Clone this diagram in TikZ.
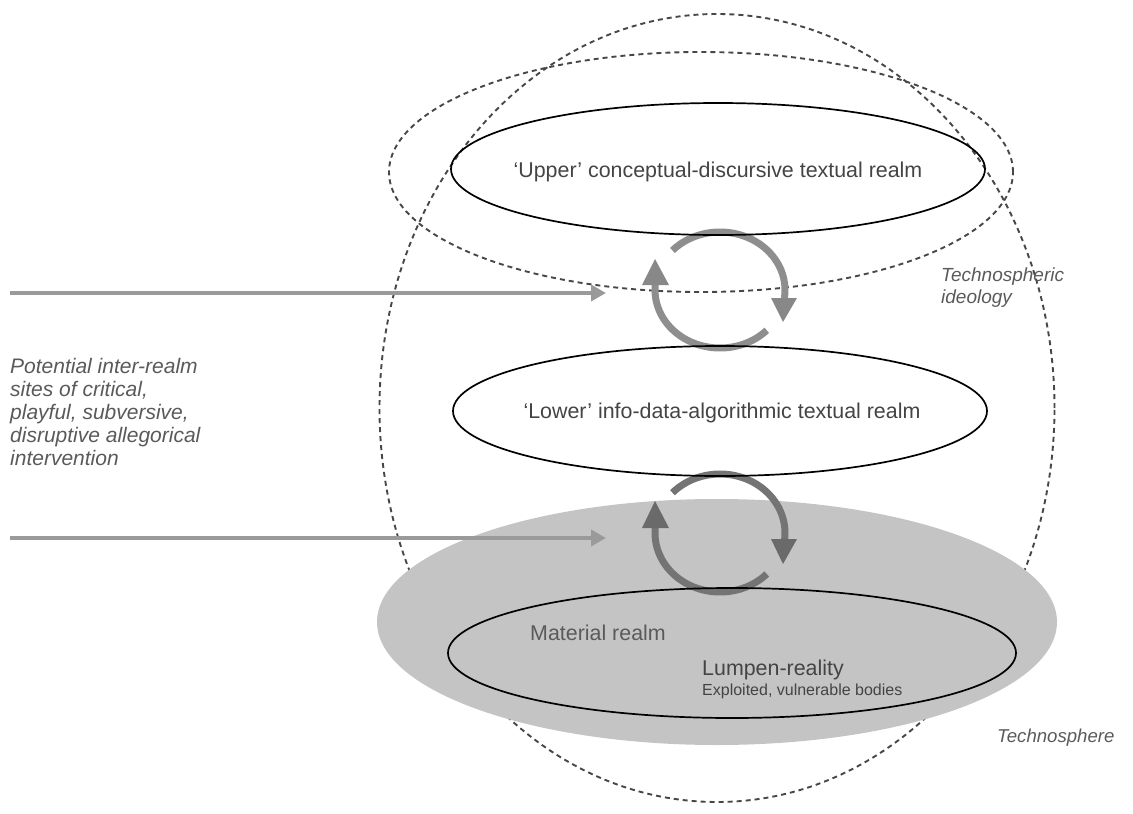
\documentclass[tikz,border=0pt]{standalone}
\usepackage{fontspec}
\setmainfont{Liberation Sans}
\usetikzlibrary{arrows.meta,shapes.geometric,calc}
\definecolor{dashc}{HTML}{474747}
\definecolor{fillc}{HTML}{C4C4C4}
\definecolor{arcup}{HTML}{8E8E8E}
\definecolor{headup}{HTML}{888888}
\definecolor{arclo}{HTML}{747474}
\definecolor{headlo}{HTML}{6A6A6A}
\definecolor{linec}{HTML}{9A9A9A}
\definecolor{labc}{HTML}{444444}
\definecolor{itc}{HTML}{5A5A5A}
\tikzset{
  realm/.style={ellipse, draw=black, line width=1.7pt, inner sep=0pt},
  dashring/.style={ellipse, draw=dashc, dash pattern=on 5pt off 4pt, line width=1.9pt, inner sep=0pt},
  lbl/.style={font=\fontsize{21.4}{24}\selectfont, text=labc, inner sep=0pt},
  itlbl/.style={font=\fontsize{21}{23}\selectfont\itshape, text=itc, inner sep=0pt, align=left},
  itsm/.style={font=\fontsize{19}{22}\selectfont\itshape, text=itc, inner sep=0pt, align=left},
  cycup/.style={draw=arcup, line width=7pt},
  cyclo/.style={draw=arclo, line width=7pt},
  hline/.style={draw=linec, line width=3.5pt, -{Triangle[length=15pt,width=16pt]}},
}
\begin{document}
\begin{tikzpicture}[x=1pt,y=-1pt]
\useasboundingbox (0,0) rectangle (1133,814);

% outer technosphere
\node[dashring, minimum width=675pt, minimum height=788pt] (sphere) at (717,408) {};
% gray material zone
\node[ellipse, fill=fillc, minimum width=680pt, minimum height=246pt, inner sep=0pt] (matzone) at (717,622) {};
% technospheric ideology
\node[dashring, minimum width=624pt, minimum height=240pt] (ideo) at (701,172) {};

% circular arrows
\coordinate (c1) at (720,290);
\coordinate (c2) at (720,533);
\draw[cycup] (c1) ++(-137:65 and 58) arc[start angle=-137, end angle=8, x radius=65, y radius=58];
\draw[cycup] (c1) ++(44:65 and 58) arc[start angle=44, end angle=185, x radius=65, y radius=58];
\fill[headup] ($(c1)+(51,8)$) -- ($(c1)+(77,8)$) -- ($(c1)+(63,32)$) -- cycle;
\fill[headup] ($(c1)+(-78,-5)$) -- ($(c1)+(-51,-5)$) -- ($(c1)+(-65,-31)$) -- cycle;

\draw[cyclo] (c2) ++(-137:65 and 59) arc[start angle=-137, end angle=8, x radius=65, y radius=59];
\draw[cyclo] (c2) ++(44:65 and 59) arc[start angle=44, end angle=185, x radius=65, y radius=59];
\fill[headlo] ($(c2)+(51,6)$) -- ($(c2)+(77,6)$) -- ($(c2)+(63,31)$) -- cycle;
\fill[headlo] ($(c2)+(-78,-5)$) -- ($(c2)+(-51,-5)$) -- ($(c2)+(-65,-32)$) -- cycle;

% realms
\node[realm, minimum width=534pt, minimum height=132pt] (upper) at (718,169) {};
\node[realm, minimum width=534pt, minimum height=130pt] (lower) at (720,411) {};
\node[realm, minimum width=568pt, minimum height=130pt] (material) at (732,653) {};

\node[lbl, anchor=base] (upperlbl) at (718,177) {‘Upper’ conceptual-discursive textual realm};
\node[lbl, anchor=base] (lowerlbl) at (722,418) {‘Lower’ info-data-algorithmic textual realm};
\node[lbl, anchor=base west, text=itc] (matlbl) at (530,640) {Material realm};
\node[lbl, anchor=base west] (lumpen) at (702,675) {Lumpen-reality};
\node[anchor=base west, inner sep=0pt, font=\fontsize{16}{18}\selectfont, text=labc] (bodies) at (702,695) {Exploited, vulnerable bodies};

% side labels
\node[itlbl, anchor=north west] (sites) at (10,358) {Potential inter-realm\\sites of critical,\\playful, subversive,\\disruptive allegorical\\intervention};
\node[itsm, anchor=north west] (ideolbl) at (941,268) {Technospheric\\ideology};
\node[itsm, anchor=base west, font=\fontsize{18.6}{22}\selectfont\itshape] (spherelbl) at (997,742) {Technosphere};

% intervention arrows
\coordinate (a1s) at (10,293);
\coordinate (a1e) at (606,293);
\coordinate (a2s) at (10,538);
\coordinate (a2e) at (606,538);
\draw[hline] (a1s) -- (a1e);
\draw[hline] (a2s) -- (a2e);
\end{tikzpicture}
\end{document}
